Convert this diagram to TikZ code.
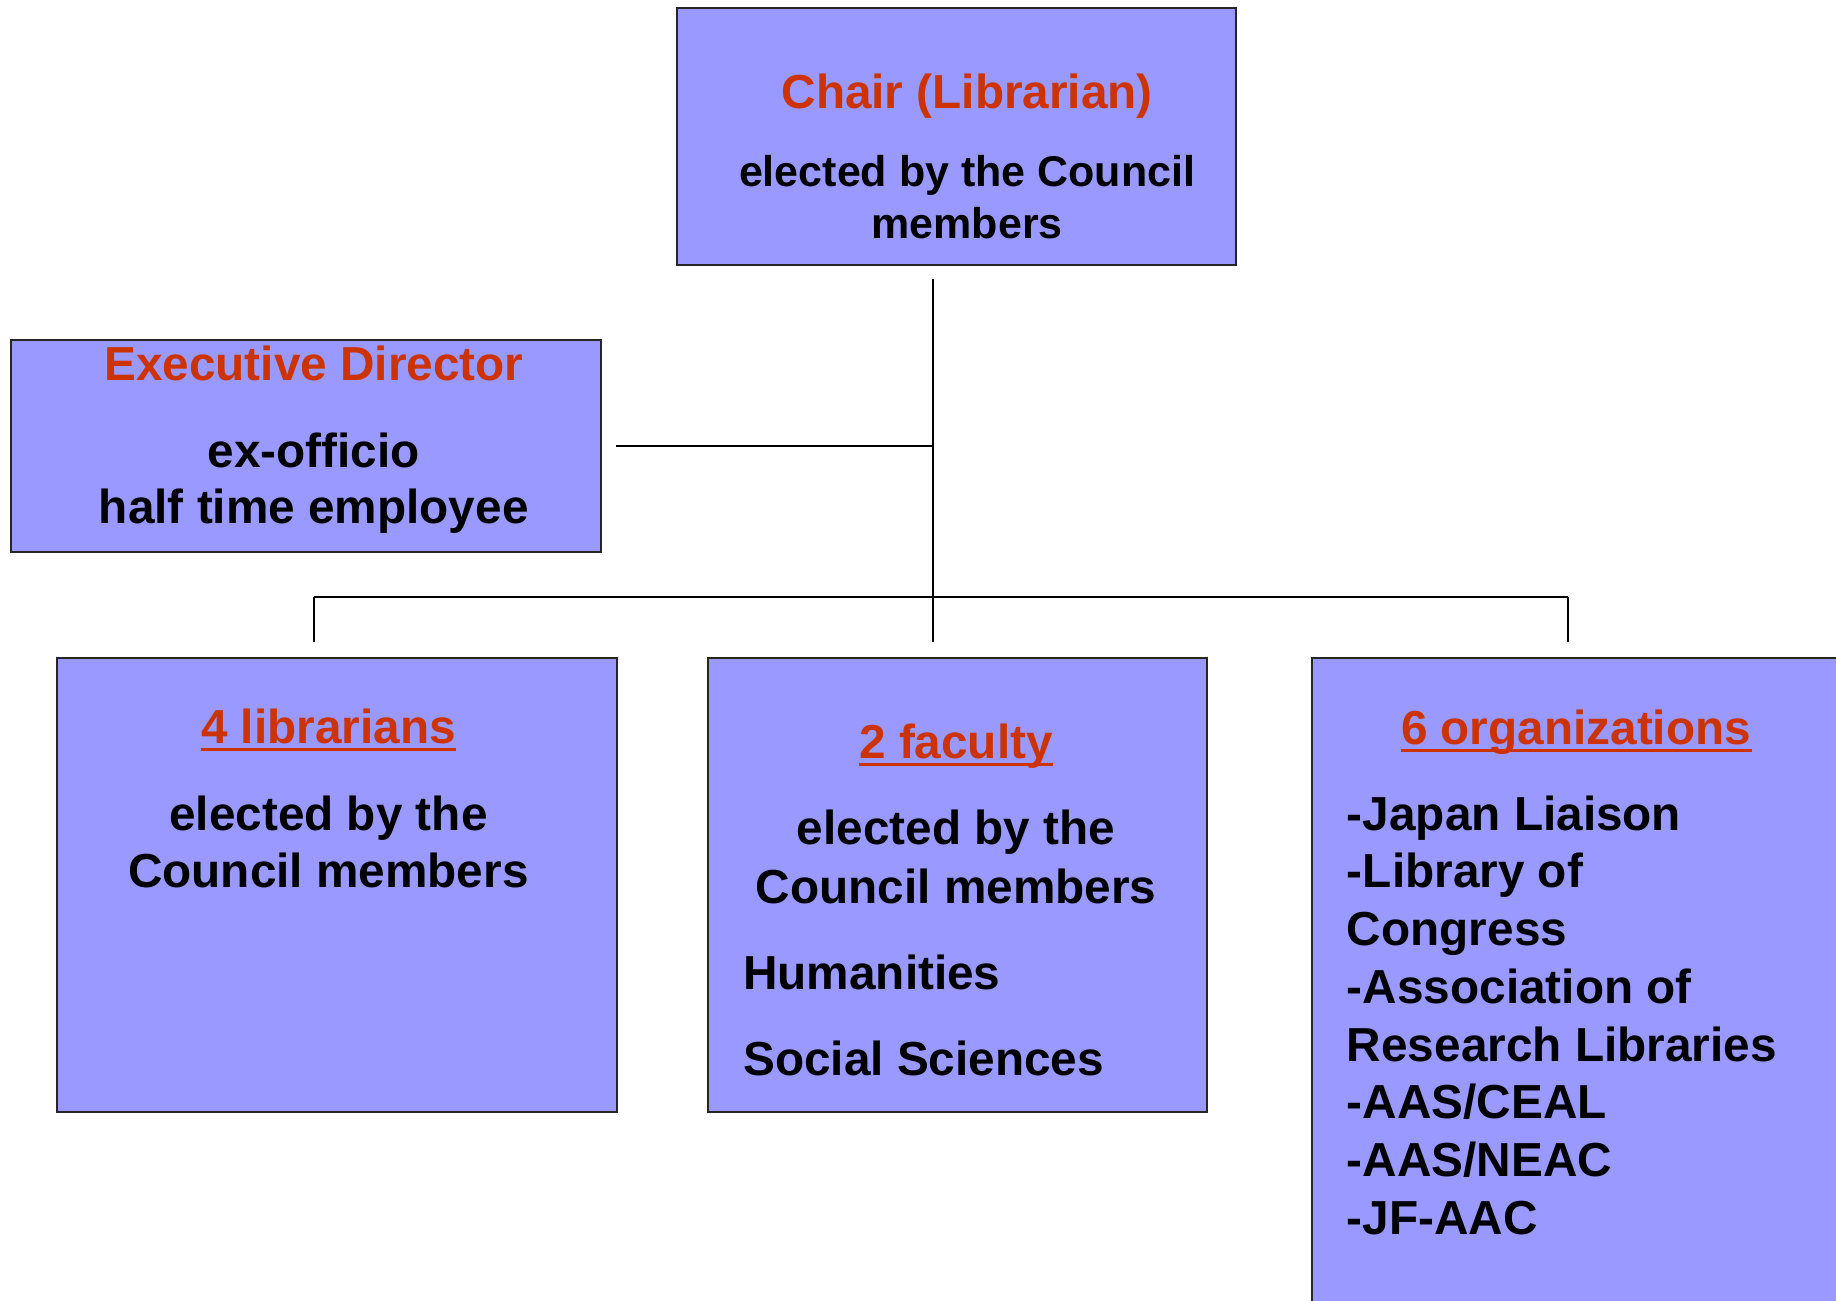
\documentclass[tikz,border=0pt]{standalone}
\usepackage{fontspec}
\setmainfont{Liberation Sans}
\usetikzlibrary{positioning}
\definecolor{boxblue}{HTML}{9999FF}
\definecolor{titlered}{HTML}{CC3300}
\tikzstyle{every node}=[font=\bfseries\fontsize{23.2}{28}\selectfont, inner sep=0pt]
\tikzstyle{unit}=[draw=black!85, fill=boxblue, line width=1pt, anchor=north west]
\tikzstyle{heading}=[text=titlered, anchor=base]
\tikzstyle{small}=[font=\bfseries\fontsize{20.9}{25}\selectfont, anchor=base]
\tikzstyle{uline}=[titlered, line width=1.6pt]
\tikzstyle{link}=[black, line width=0.9pt]

\begin{document}
\begin{tikzpicture}[x=0.02cm, y=-0.02cm]
  \useasboundingbox (0,0) rectangle (1568,1111);
  \clip (0,0) rectangle (1568,1111);

  % boxes
  \node[unit, minimum width=9.56cm, minimum height=4.39cm] (chair) at (577,6) {};
  \node[unit, minimum width=10.08cm, minimum height=3.62cm] (exec) at (8.5,289.5) {};
  \node[unit, minimum width=9.56cm, minimum height=7.75cm] (lib) at (48,561) {};
  \node[unit, minimum width=8.52cm, minimum height=7.75cm] (fac) at (604,561) {};
  \node[unit, minimum width=9.7cm, minimum height=11.8cm] (org) at (1119.5,561) {};

  % connectors
  \coordinate (chairfoot) at (797,238);
  \coordinate (execfoot) at (526,381);
  \coordinate (hub) at (797,381);
  \coordinate (fork) at (797,510);
  \foreach \nm/\xx in {lib/268, fac/797, org/1339}
  {
    \coordinate (\nm-top) at (\xx,510);
    \coordinate (\nm-drop) at (\xx,548);
    \draw[link] (\nm-top) -- (\nm-drop);
  }
  \draw[link] (chairfoot) -- (hub) -- (fork);
  \draw[link] (execfoot) -- (hub);
  \draw[link] (lib-top) -- (org-top);

  % Chair
  \node[heading] (chairT) at (826,93) {Chair (Librarian)};
  \node[small] (chairA) at (826,159.4) {elected by the Council};
  \node[small] (chairB) at (826,203.5) {members};

  % Executive Director
  \node[heading] (execT) at (268,325) {Executive Director};
  \node[anchor=base] (execA) at (268,399) {ex-officio};
  \node[anchor=base] (execB) at (268,447.5) {half time employee};

  % librarians
  \node[heading] (libT) at (280.5,635) {4 librarians};
  \node[anchor=base] (libA) at (280.5,709) {elected by the};
  \node[anchor=base] (libB) at (280.5,758) {Council members};

  % faculty
  \node[heading] (facT) at (816.5,647.6) {2 faculty};
  \node[anchor=base] (facA) at (816.5,721.6) {elected by the};
  \node[anchor=base] (facB) at (816.5,771.4) {Council members};
  \node[anchor=base west] (facC) at (634.4,845.4) {Humanities};
  \node[anchor=base west] (facD) at (634.4,918.9) {Social Sciences};

  % organizations
  \node[heading] (orgT) at (1346,635.6) {6 organizations};
  \foreach \i/\txt in {0/-Japan Liaison, 1/-Library of, 2/Congress,
    3/-Association of, 4/Research Libraries, 5/{-AAS/CEAL},
    6/{-AAS/NEAC}, 7/-JF-AAC}
  \node[anchor=base west] (org\i) at (1150,{709+49.3*\i}) {\txt};

  % underlines
  \foreach \nm in {libT, facT, orgT}
  \draw[uline] ([yshift=-3pt]\nm.base west) -- ([yshift=-3pt]\nm.base east);
\end{tikzpicture}
\end{document}
